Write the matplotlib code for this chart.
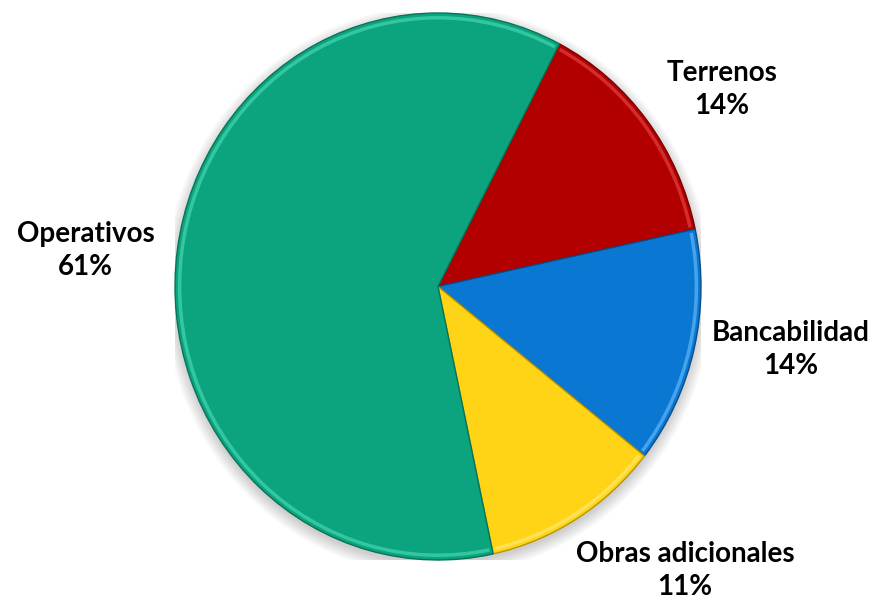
import matplotlib
matplotlib.use('Agg')
import matplotlib.pyplot as plt
from matplotlib.patches import Ellipse, Arc

# 数据
categorias = ['Terrenos', 'Bancabilidad', 'Obras adicionales', 'Operativos']
porcentajes = [14, 14, 11, 61]
colores = ['#B20000', '#0A78D2', '#FFD316', '#0CA37F']
bordes = ['#7A0000', '#064E8C', '#B89400', '#077457']
brillos = ['#E84A4A', '#6BC0FF', '#FFEC80', '#4DE0B8']

# 标签位置（数据坐标）
pos_etiquetas = [(1.08, 0.72), (1.34, -0.23), (0.94, -1.04), (-1.34, 0.13)]

plt.rcParams['font.family'] = ['Lato', 'DejaVu Sans']

fig = plt.figure(figsize=(8.76, 5.99), dpi=100)
# 饼图区域：略呈椭圆
ax = fig.add_axes([175 / 876, (599 - 560) / 599, 526 / 876, 547 / 599])

# 阴影
for i in range(8):
    sombra = Ellipse((0.0, -0.015), 2.0 + 0.012 * i, 2.0 + 0.012 * i,
                     facecolor='black', edgecolor='none', alpha=0.025, zorder=0)
    ax.add_patch(sombra)

wedges, _ = ax.pie(porcentajes, colors=colores, startangle=62.5, counterclock=False,
                   radius=1.0, wedgeprops=dict(linewidth=1.0, zorder=2))
for w, b in zip(wedges, bordes):
    w.set_edgecolor(b)

# 外缘高光
for w, c in zip(wedges, brillos):
    arco = Arc((0, 0), 1.965, 1.965, theta1=w.theta1 + 0.6, theta2=w.theta2 - 0.6,
               color=c, linewidth=2.5, alpha=0.6, zorder=3)
    ax.add_patch(arco)

ax.set_aspect('auto')
ax.set_xlim(-1, 1)
ax.set_ylim(-1, 1)
ax.axis('off')

for cat, p, (x, y) in zip(categorias, porcentajes, pos_etiquetas):
    ax.text(x, y, f'{cat}\n{p}%', ha='center', va='center', fontsize=20,
            fontweight='bold', linespacing=1.33, color='black', clip_on=False, zorder=5)

fig.savefig('out.png', dpi=100, facecolor='white')
